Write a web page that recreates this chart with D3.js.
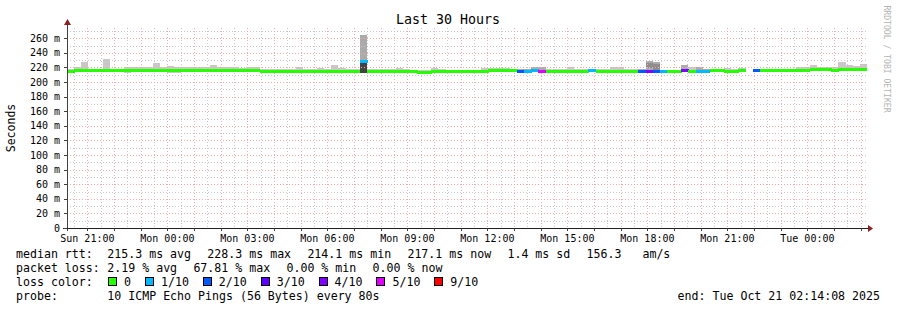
<!DOCTYPE html>
<html lang="en">
<head>
<meta charset="UTF-8">
<title>Last 30 Hours</title>
<script src="https://d3js.org/d3.v7.min.js"></script>
<style>
  body { margin: 0; background: #fff; }
  text { font-family: "DejaVu Sans Mono", monospace; fill: #000; }
</style>
</head>
<body>
<div id="chart"></div>
<script>
// ---- data: 112 consolidated steps over the last 30 hours (values in ms) ----
const endTime = Date.UTC(2025, 9, 21, 2, 14, 8);
const spanHours = 30;

const median = [
  214, 215.3, 215.3, 215.3, 215.3, 215.3, 215.3, 215.3, 215.3, 216,
  216, 216, 215.3, 215.3, 215.5, 215.5, 216, 216, 216, 216,
  216, 216, 216, 216, 215.5, 215.5, 215.5, 214, 214, 214,
  214, 214, 215, 215, 215, 215, 215, 215, 215, 215,
  215, 227.5, 215, 215, 215, 215, 215, 214.5, 214.5, 213.5,
  213.5, 215, 215, 215, 215, 215, 215, 215, 215, 216,
  216, 216, 215.5, 214.5, 214.5, 215.5, 214.5, 215, 215, 215,
  215, 215, 215, 215.5, 215, 215, 215, 215, 214, 214,
  214.5, 214.5, 214.5, 214.5, 214, 214, 215.5, 214.5, 215, 215,
  216, 216, 215, 215, 216, null, 216, 216, 216, 216,
  216, 216, 216, 216, 217.5, 216.5, 216.5, 215.5, 216.5, 216.5,
  216.5, 217.5
];

const smokeHi = [
  218, 221, 228, 218, 217.5, 231.5, 218, 217.5, 220, 221,
  221, 221, 226.5, 221, 222.5, 221, 221, 220, 220, 221,
  223, 220, 220, 221, 219.5, 221, 221, 218, 218, 218.5,
  218, 218, 221, 218, 218, 219, 218, 223, 219, 217.5,
  217.5, 265, 217.5, 217.5, 218, 217.5, 219, 218, 217, 216,
  216, 219.5, 217.5, 217, 217, 217, 217, 217, 219, 219.5,
  219.5, 219.5, 218, 217.5, 218, 221, 221, 218, 217.5, 218,
  221, 217.5, 217.5, 217.5, 218, 218, 220, 220, 218, 218,
  218, 229, 227, 217, 217, 217, 223, 220, 220, 218,
  218.5, 218.5, 219, 218, 219, null, 218, 217.5, 217.5, 217.5,
  217.5, 217.5, 220, 220, 223.5, 220, 220, 220, 227, 223.5,
  222, 224.5
];

const smokeLo = [
  212.5, 214, 214, 214, 214, 214, 214, 214, 213, 214.5,
  214.5, 214.5, 213.5, 214, 212, 212, 214.5, 214.5, 214.5, 214.5,
  214.5, 214.5, 214.5, 214.5, 214, 214, 214, 212.5, 212.5, 212.5,
  212.5, 212.5, 213.5, 213.5, 213.5, 213.5, 213.5, 213.5, 213.5, 213.5,
  213.5, 213, 213.5, 213.5, 213.5, 213.5, 213.5, 213, 213, 212,
  211, 213.5, 213.5, 213.5, 213.5, 213.5, 213.5, 213.5, 213.5, 214.5,
  214.5, 214.5, 214, 213, 213, 214, 213, 213.5, 213.5, 213.5,
  213.5, 213.5, 213.5, 214, 213.5, 213.5, 213.5, 213.5, 212.5, 212.5,
  213, 213, 213, 213, 212.5, 212.5, 214, 213, 213.5, 213.5,
  214.5, 214.5, 213.5, 213.5, 214.5, null, 214.5, 214.5, 214.5, 214.5,
  214.5, 214.5, 214.5, 214.5, 215.5, 215, 215, 214, 215, 215,
  215, 215.5
];

// lost pings out of 10 per step
const lossCount = [
  0, 0, 0, 0, 0, 0, 0, 0, 0, 0,
  0, 0, 0, 0, 0, 0, 0, 0, 0, 0,
  0, 0, 0, 0, 0, 0, 0, 0, 0, 0,
  0, 0, 0, 0, 0, 0, 0, 0, 0, 0,
  0, 1, 0, 0, 0, 0, 0, 0, 0, 0,
  0, 0, 0, 0, 0, 0, 0, 0, 0, 0,
  0, 0, 0, 2, 1, 1, 5, 0, 0, 0,
  0, 0, 0, 1, 0, 0, 0, 0, 0, 0,
  2, 4, 2, 1, 0, 0, 4, 0, 1, 1,
  0, 0, 0, 0, 0, 0, 2, 0, 0, 0,
  0, 0, 0, 0, 0, 0, 0, 0, 0, 0,
  0, 0
];

// dense smoke cores: [step, low ms, high ms, pings inside]
const coreBands = [[41, 213, 228.5, 8], [81, 219, 226, 4], [82, 217, 225, 4]];

const yTicks = [0, 20, 40, 60, 80, 100, 120, 140, 160, 180, 200, 220, 240, 260];
const lossLabels = ["0", "1/10", "2/10", "3/10", "4/10", "5/10", "9/10"];
const lossColors = ["#26ff00", "#00b8ff", "#0059ff", "#5e00ff", "#7e00ff", "#dd00ff", "#ff0000"];

const rttItems = ["median rtt:", "215.3 ms avg", "228.3 ms max", "214.1 ms min", "217.1 ms now", "1.4 ms sd", "156.3   am/s"];
const lossItems = ["packet loss:", "2.19 % avg", "67.81 % max", "0.00 % min", "0.00 % now"];
const probeItems = ["probe:", "10 ICMP Echo Pings (56 Bytes) every 80s"];
const endLine = "end: Tue Oct 21 02:14:08 2025";

// ---- layout ----
const W = 897, H = 310;
const pL = 67, pR = 867, pT = 28, pB = 228;
const charW = 6.97, legendCol = 107.3, legendGap = 16.4;

const svg = d3.select("#chart").append("svg")
  .attr("width", W).attr("height", H)
  .style("display", "block");

svg.append("rect").attr("width", W).attr("height", H).attr("fill", "#fff");

const startTime = endTime - spanHours * 3600e3;
const step = (endTime - startTime) / median.length;
const times = median.map((d, i) => new Date(startTime + i * step));

const x = d3.scaleUtc().domain([new Date(startTime), new Date(endTime)]).range([pL, pR]);
const y = d3.scaleLinear().domain([0, 274]).range([pB, pT]);
const lossColor = d3.scaleThreshold().domain([1, 2, 3, 4, 5, 6]).range(lossColors);
const coreShade = d3.scaleLinear().domain([0, 10]).range(["#d8d8d8", "#1c1c1c"]);

const stepX = i => x(times[i]);
const stepW = i => x(new Date(+times[i] + step)) - x(times[i]);

// smoke
const smoke = svg.append("g").attr("shape-rendering", "crispEdges");
median.forEach((m, i) => {
  if (m == null) return;
  smoke.append("rect")
    .attr("x", stepX(i)).attr("width", stepW(i))
    .attr("y", y(smokeHi[i])).attr("height", y(smokeLo[i]) - y(smokeHi[i]))
    .attr("fill", lossCount[i] > 0 ? "#ababab" : "#c8c8c8");
});
coreBands.forEach(([i, lo, hi, n]) => {
  smoke.append("rect")
    .attr("x", stepX(i)).attr("width", stepW(i))
    .attr("y", y(hi)).attr("height", y(lo) - y(hi))
    .attr("fill", coreShade(n));
});

// grid
const grid = svg.append("g").attr("shape-rendering", "crispEdges").attr("stroke-dasharray", "1,2");
const minorX = x.ticks(d3.utcMinute.every(30));
const majorX = x.ticks(d3.utcHour.every(1));
grid.selectAll(".vminor").data(minorX).join("line")
  .attr("x1", d => Math.round(x(d)) + 0.5).attr("x2", d => Math.round(x(d)) + 0.5)
  .attr("y1", pT).attr("y2", pB)
  .attr("stroke", "#c8c8c8");
grid.selectAll(".hminor").data(d3.range(10, 280, 20)).join("line")
  .attr("x1", pL).attr("x2", pR)
  .attr("y1", d => Math.round(y(d)) + 0.5).attr("y2", d => Math.round(y(d)) + 0.5)
  .attr("stroke", "#c8c8c8");
grid.selectAll(".vmajor").data(majorX).join("line")
  .attr("x1", d => Math.round(x(d)) + 0.5).attr("x2", d => Math.round(x(d)) + 0.5)
  .attr("y1", pT).attr("y2", pB)
  .attr("stroke", "#f2abab");
grid.selectAll(".hmajor").data(yTicks.slice(1)).join("line")
  .attr("x1", pL).attr("x2", pR)
  .attr("y1", d => Math.round(y(d)) + 0.5).attr("y2", d => Math.round(y(d)) + 0.5)
  .attr("stroke", "#f2abab");

// median line coloured by loss
const med = svg.append("g").attr("shape-rendering", "crispEdges");
median.forEach((m, i) => {
  if (m == null) return;
  med.append("rect")
    .attr("x", stepX(i)).attr("width", stepW(i) + 0.5)
    .attr("y", y(m) - 1.5).attr("height", 3)
    .attr("fill", lossColor(lossCount[i]));
});

// axes
const axis = svg.append("g").attr("shape-rendering", "crispEdges");
axis.append("line").attr("x1", pL + 0.5).attr("x2", pL + 0.5).attr("y1", pB + 3).attr("y2", 22)
  .attr("stroke", "#404040");
axis.append("line").attr("x1", pL - 4).attr("x2", pR + 3).attr("y1", pB + 0.5).attr("y2", pB + 0.5)
  .attr("stroke", "#202020");
axis.selectAll(".xt").data(majorX).join("line")
  .attr("x1", d => Math.round(x(d)) + 0.5).attr("x2", d => Math.round(x(d)) + 0.5)
  .attr("y1", pB).attr("y2", pB + 3).attr("stroke", "#404040");
axis.selectAll(".yt").data(yTicks).join("line")
  .attr("x1", pL - 3).attr("x2", pL)
  .attr("y1", d => Math.round(y(d)) + 0.5).attr("y2", d => Math.round(y(d)) + 0.5)
  .attr("stroke", "#404040");
svg.append("path").attr("d", `M${pL - 3},25 L${pL + 4},25 L${pL + 0.5},19 Z`).attr("fill", "#8a1f1f");
svg.append("path").attr("d", `M${pR + 1},${pB - 3} L${pR + 1},${pB + 4} L${pR + 6},${pB + 0.5} Z`).attr("fill", "#8a1f1f");

// tick labels
svg.append("g").selectAll("text").data(x.ticks(d3.utcHour.every(3))).join("text")
  .attr("x", d => x(d)).attr("y", 242)
  .attr("text-anchor", "middle").attr("font-size", "10px")
  .text(d3.utcFormat("%a %H:%M"));
svg.append("g").selectAll("text").data(yTicks).join("text")
  .attr("x", 60).attr("y", d => y(d) + 3.5)
  .attr("text-anchor", "end").attr("font-size", "10px")
  .text(d => d === 0 ? "0" : `${d} m`);

// titles
svg.append("text").attr("x", 448).attr("y", 24).attr("text-anchor", "middle")
  .attr("font-size", "13.3px").text("Last 30 Hours");
svg.append("text").attr("transform", "translate(15,128) rotate(-90)").attr("text-anchor", "middle")
  .attr("font-size", "11.5px").text("Seconds");
svg.append("text").attr("transform", "translate(884,59) rotate(90)").attr("text-anchor", "middle")
  .attr("font-size", "8.1px").style("fill", "#b4b4b4").text("RRDTOOL / TOBI OETIKER");

// legend: label in first column, values from legendCol, items separated by a gap
const legend = svg.append("g").attr("font-size", "11.6px");
function legendRow(items, baseline) {
  let lx = legendCol;
  items.forEach((t, k) => {
    legend.append("text").attr("x", k === 0 ? 16 : lx).attr("y", baseline)
      .style("white-space", "pre").text(t);
    if (k > 0) lx += t.length * charW + legendGap;
  });
}
legendRow(rttItems, 258);
legendRow(lossItems, 272);
legendRow(probeItems, 300);
legend.append("text").attr("x", 16).attr("y", 286).text("loss color:");
legend.append("text").attr("x", 880).attr("y", 300).attr("text-anchor", "end").text(endLine);

let sx = 108;
lossLabels.forEach((lab, i) => {
  legend.append("rect").attr("x", Math.round(sx) + 0.5).attr("y", 277.5).attr("width", 8).attr("height", 8)
    .attr("fill", lossColors[i]).attr("stroke", "#000").attr("shape-rendering", "crispEdges");
  legend.append("text").attr("x", sx + 16).attr("y", 286).text(lab);
  sx += 16 + lab.length * charW + 14;
});
</script>
</body>
</html>
